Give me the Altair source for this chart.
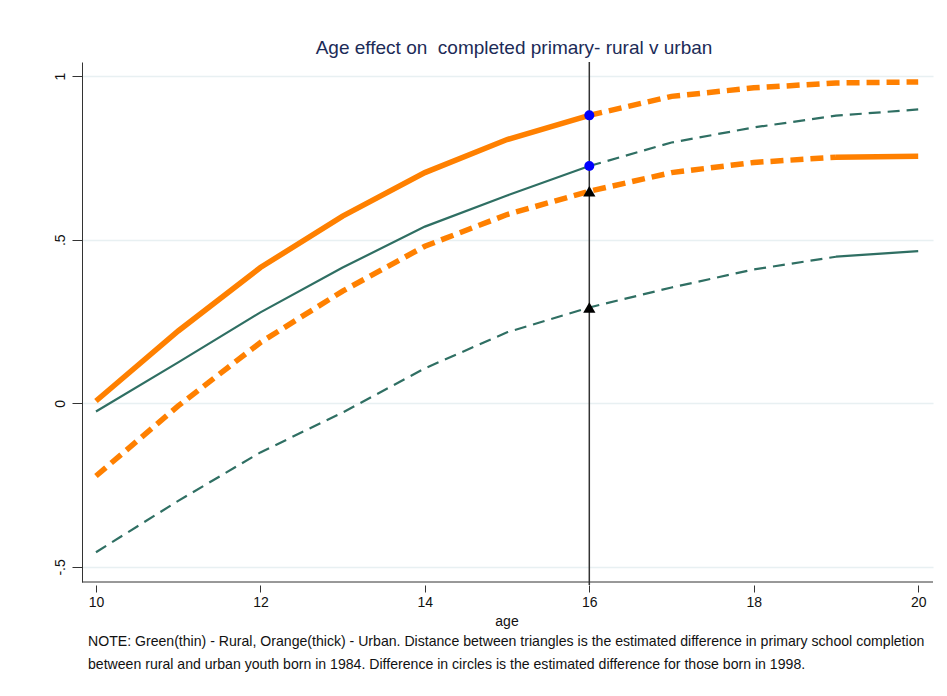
import altair as alt
import pandas as pd

ages = [10, 11, 12, 13, 14, 15, 16, 17, 18, 19, 20]
urban_1998 = [0.007, 0.221, 0.415, 0.572, 0.705, 0.806, 0.880, 0.938, 0.964, 0.979, 0.982]
rural_1998 = [-0.025, 0.125, 0.278, 0.415, 0.540, 0.635, 0.725, 0.797, 0.843, 0.879, 0.898]
urban_1984 = [-0.222, -0.008, 0.186, 0.343, 0.480, 0.577, 0.648, 0.705, 0.736, 0.752, 0.755]
rural_1984 = [-0.455, -0.298, -0.150, -0.028, 0.107, 0.217, 0.293, 0.354, 0.409, 0.448, 0.465]

x_ticks = [10, 12, 14, 16, 18, 20]
y_ticks = [-0.5, 0, 0.5, 1]
marker_age = 16

title_text = "Age effect on \u00a0completed primary- rural v urban"
x_title = "age"
note_1 = ("NOTE: Green(thin) - Rural, Orange(thick) - Urban. Distance between triangles is the "
          "estimated difference in primary school completion")
note_2 = ("between rural and urban youth born in 1984. Difference in circles is the estimated "
          "difference for those born in 1998.")

ORANGE = "#ff8000"
GREEN = "#2f6f63"
FONT = "Liberation Sans"

W, H = 851, 520


def seg(name, values, lo, hi):
    return [{"age": a, "value": v, "seg": name} for a, v in zip(ages, values) if lo <= a <= hi]


orange_solid = pd.DataFrame(seg("u98s", urban_1998, 10, 16) + seg("u84s", urban_1984, 19, 20))
orange_dash = pd.DataFrame(seg("u98d", urban_1998, 16, 20) + seg("u84d", urban_1984, 10, 19))
green_solid = pd.DataFrame(seg("r98s", rural_1998, 10, 16) + seg("r84s", rural_1984, 19, 20))
green_dash = pd.DataFrame(seg("r98d", rural_1998, 16, 20) + seg("r84d", rural_1984, 10, 19))

idx = ages.index(marker_age)
circles = pd.DataFrame({"age": [marker_age, marker_age], "value": [urban_1998[idx], rural_1998[idx]]})
triangles = pd.DataFrame({"age": [marker_age, marker_age], "value": [urban_1984[idx], rural_1984[idx]]})

xscale = alt.Scale(domain=[9.83, 20.18], nice=False, zero=False)
yscale = alt.Scale(domain=[-0.546, 1.043], nice=False, zero=False)

xaxis = alt.Axis(values=x_ticks, title=None, domain=False, grid=False, tickSize=7, offset=3,
                 tickColor="#333333", tickWidth=1, labelFont=FONT, labelFontSize=14,
                 labelColor="#111111", labelPadding=3, labelFlush=False, format="d")
yaxis = alt.Axis(values=y_ticks, title=None, domain=True, domainColor="#333333", domainWidth=1,
                 grid=True, gridColor="#e8f0f2", gridWidth=1.5, tickSize=10, tickColor="#333333",
                 tickWidth=1, labelFont=FONT, labelFontSize=14, labelColor="#111111",
                 labelAngle=-90, labelAlign="center", labelBaseline="bottom", labelPadding=5,
                 labelExpr="datum.value == 1 ? '1' : datum.value == 0.5 ? '.5' : datum.value == 0 ? '0' : '-.5'")

x_enc = alt.X("age:Q", scale=xscale, axis=xaxis)
y_enc = alt.Y("value:Q", scale=yscale, axis=yaxis)

l_os = alt.Chart(orange_solid).mark_line(color=ORANGE, strokeWidth=5.5, strokeCap="butt").encode(
    x=x_enc, y=y_enc, detail="seg:N")
l_od = alt.Chart(orange_dash).mark_line(color=ORANGE, strokeWidth=5.5, strokeDash=[13, 7],
                                        strokeCap="butt").encode(
    x=alt.X("age:Q", scale=xscale), y=alt.Y("value:Q", scale=yscale), detail="seg:N")
l_gs = alt.Chart(green_solid).mark_line(color=GREEN, strokeWidth=2.2).encode(
    x=alt.X("age:Q", scale=xscale), y=alt.Y("value:Q", scale=yscale), detail="seg:N")
l_gd = alt.Chart(green_dash).mark_line(color=GREEN, strokeWidth=2.2, strokeDash=[12, 7]).encode(
    x=alt.X("age:Q", scale=xscale), y=alt.Y("value:Q", scale=yscale), detail="seg:N")

vrule = alt.Chart(pd.DataFrame({"age": [marker_age]})).mark_rule(color="#333333", strokeWidth=1.5).encode(
    x=alt.X("age:Q", scale=xscale), y=alt.value(0), y2=alt.value(H + 3))

xline = alt.Chart(pd.DataFrame({"a": [0]})).mark_rule(color="#333333", strokeWidth=1).encode(
    x=alt.value(0), x2=alt.value(W), y=alt.value(H))

pts_c = alt.Chart(circles).mark_point(shape="circle", filled=True, color="#0000ff", size=100, opacity=1).encode(
    x=alt.X("age:Q", scale=xscale), y=alt.Y("value:Q", scale=yscale))
pts_t = alt.Chart(triangles).mark_point(shape="triangle-up", filled=True, color="#000000", size=150,
                                        opacity=1).encode(
    x=alt.X("age:Q", scale=xscale), y=alt.Y("value:Q", scale=yscale))

txt = pd.DataFrame({"a": [0]})
title_m = alt.Chart(txt).mark_text(text=title_text, font=FONT, fontSize=19, color="#1c2b57",
                                   align="center", baseline="alphabetic").encode(
    x=alt.value(432), y=alt.value(-8))
xtitle_m = alt.Chart(txt).mark_text(text=x_title, font=FONT, fontSize=14, color="#111111",
                                    align="center", baseline="alphabetic").encode(
    x=alt.value(425), y=alt.value(564))
note1_m = alt.Chart(txt).mark_text(text=note_1, font=FONT, fontSize=14.1, color="#111111",
                                   align="left", baseline="alphabetic").encode(
    x=alt.value(6), y=alt.value(584))
note2_m = alt.Chart(txt).mark_text(text=note_2, font=FONT, fontSize=14.1, color="#111111",
                                   align="left", baseline="alphabetic").encode(
    x=alt.value(6), y=alt.value(607))

chart = alt.layer(
    l_os, l_od, l_gs, l_gd, vrule, xline, pts_c, pts_t, title_m, xtitle_m, note1_m, note2_m
).properties(
    width=W, height=H,
    autosize=alt.AutoSizeParams(type="none"),
    padding={"left": 74, "top": 54, "right": 6, "bottom": 100},
    background="white",
).configure_view(stroke=None)

chart.save("out.html", embed_options={"renderer": "svg", "actions": False})
